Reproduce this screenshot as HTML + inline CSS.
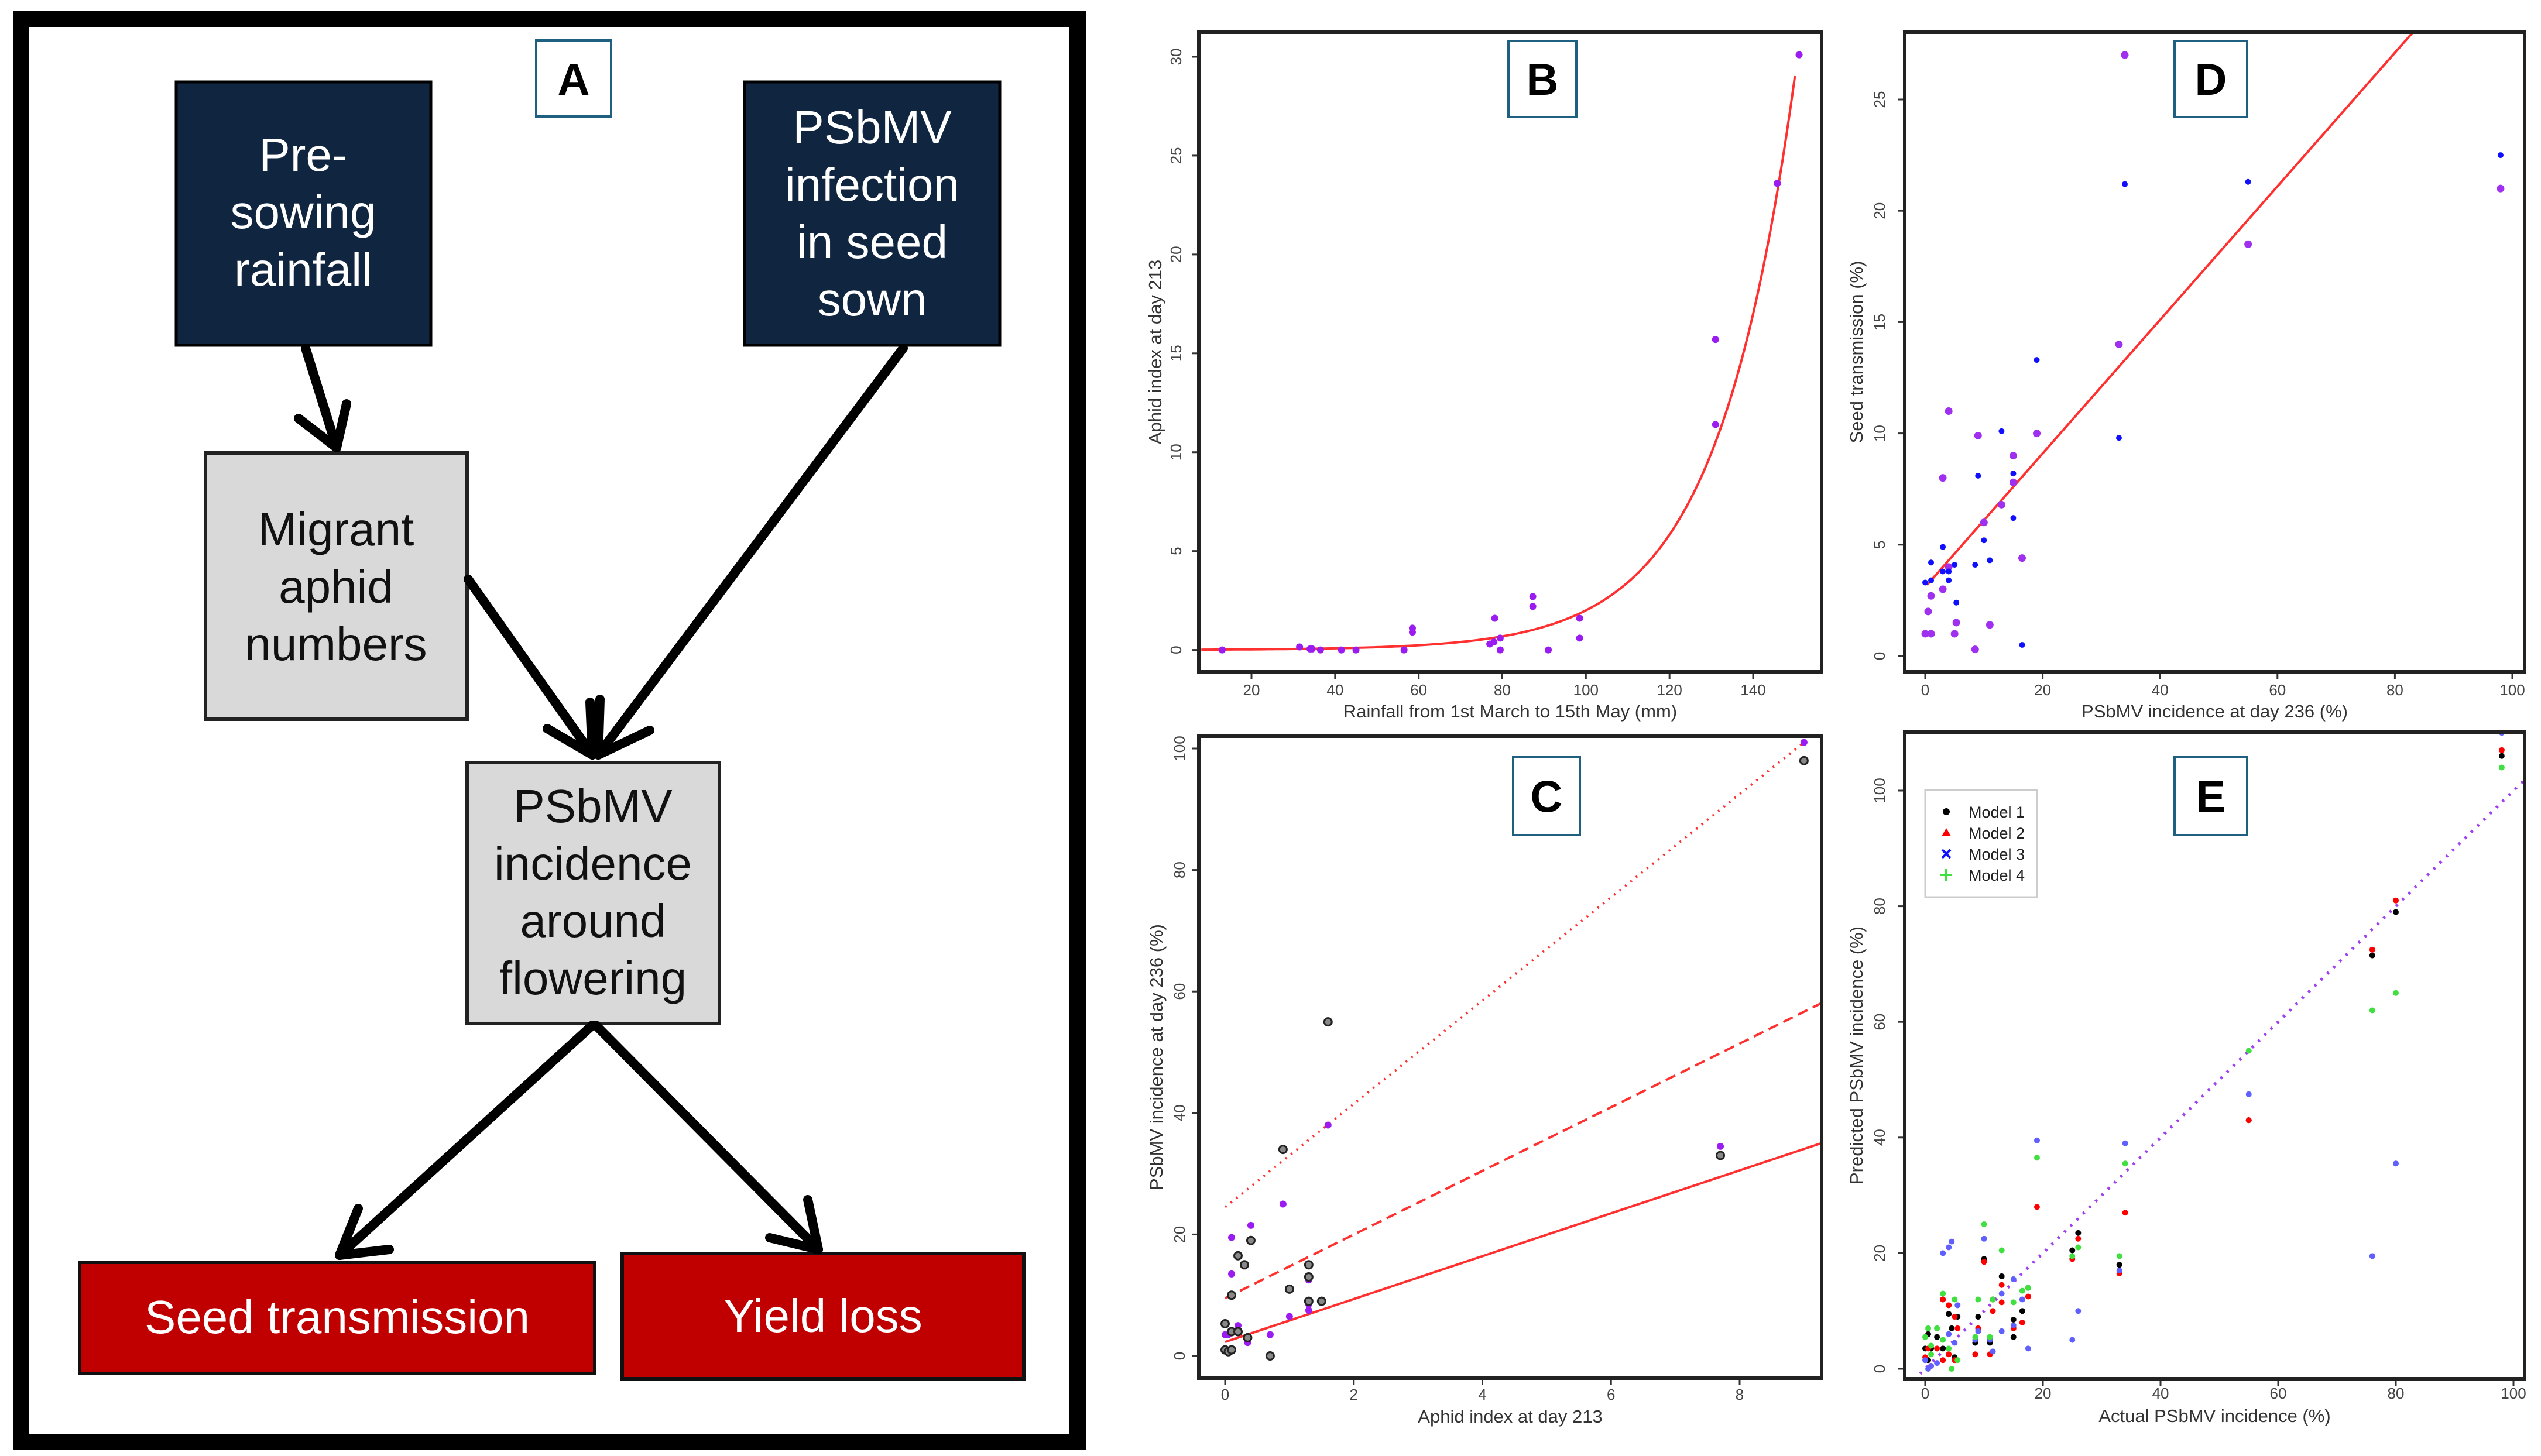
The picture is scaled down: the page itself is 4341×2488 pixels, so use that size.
<!DOCTYPE html>
<html><head><meta charset="utf-8"><style>
html,body{margin:0;padding:0;background:#fff}
svg{display:block}
text{font-family:"Liberation Sans",Arial,sans-serif}
</style></head><body>
<svg id="fig" width="4341" height="2488" viewBox="0 0 4341 2488" xmlns="http://www.w3.org/2000/svg">
<rect x="0" y="0" width="4341" height="2488" fill="#fff"/>
<!-- Panel A -->
<g>
<rect x="36" y="32" width="1805" height="2432" fill="#fff" stroke="#000" stroke-width="28"/>
<rect x="916" y="69" width="128" height="130" fill="#fff" stroke="#1f5f80" stroke-width="4"/>
<text x="980" y="162" font-size="76" font-weight="bold" text-anchor="middle">A</text>
<g>
<rect x="301" y="140" width="435" height="450" fill="#10253f" stroke="#000" stroke-width="5"/>
<text fill="#fff" font-size="80" text-anchor="middle"><tspan x="518" y="292">Pre-</tspan><tspan x="518" y="390">sowing</tspan><tspan x="518" y="488">rainfall</tspan></text>
</g>
<g>
<rect x="1272" y="140" width="436" height="450" fill="#10253f" stroke="#000" stroke-width="5"/>
<text fill="#fff" font-size="80" text-anchor="middle"><tspan x="1490" y="245">PSbMV</tspan><tspan x="1490" y="343">infection</tspan><tspan x="1490" y="441">in seed</tspan><tspan x="1490" y="539">sown</tspan></text>
</g>
<g>
<rect x="351" y="774" width="447" height="455" fill="#d9d9d9" stroke="#222" stroke-width="6"/>
<text fill="#111" font-size="80" text-anchor="middle"><tspan x="574" y="932">Migrant</tspan><tspan x="574" y="1030">aphid</tspan><tspan x="574" y="1128">numbers</tspan></text>
</g>
<g>
<rect x="798" y="1303" width="431" height="446" fill="#d9d9d9" stroke="#222" stroke-width="6"/>
<text fill="#111" font-size="80" text-anchor="middle"><tspan x="1013" y="1405">PSbMV</tspan><tspan x="1013" y="1503">incidence</tspan><tspan x="1013" y="1601">around</tspan><tspan x="1013" y="1699">flowering</tspan></text>
</g>
<g>
<rect x="136" y="2157" width="880" height="190" fill="#c00000" stroke="#111" stroke-width="6"/>
<text x="576" y="2278" fill="#fff" font-size="80" text-anchor="middle">Seed transmission</text>
</g>
<g>
<rect x="1063" y="2142" width="686" height="214" fill="#c00000" stroke="#111" stroke-width="6"/>
<text x="1406" y="2276" fill="#fff" font-size="80" text-anchor="middle">Yield loss</text>
</g>
<g stroke="#000" stroke-width="16" fill="none" stroke-linecap="round" stroke-linejoin="round">
<path d="M522 595 L575 765"/><path d="M510 715 L575 765 L592 690"/>
<path d="M1543 595 L1022 1290"/><path d="M1110 1248 L1022 1290 L1025 1195"/>
<path d="M800 990 L1012 1290"/><path d="M935 1245 L1012 1290 L1008 1200"/>
<path d="M1012 1752 L580 2145"/><path d="M612 2065 L580 2145 L665 2135"/>
<path d="M1018 1752 L1398 2135"/><path d="M1315 2115 L1398 2135 L1380 2050"/>
</g>
</g>
<g id="charts"></g>
</svg>
<script>
// ---------- Data ----------
const bRain = [13,31.5,34,34.5,36.5,41.5,45,56.5,58.5,58.5,77,78,78.2,79.5,79.5,87.3,87.3,91,98.5,98.5,131,131,145.8,151];
const bAphid = [0,0.15,0.05,0.05,0,0,0,0,1.1,0.9,0.3,0.4,1.6,0.6,0,2.7,2.2,0,1.6,0.6,15.7,11.4,23.6,30.1];
const bFitA = 2.0, bFitB = 0.0535;
const bXTicks = [20,40,60,80,100,120,140];
const bYTicks = [0,5,10,15,20,25,30];

const cAphidBlack = [9,1.6,0.9,7.7,0.4,0.2,0.3,1.3,1.3,1,0.1,1.3,1.5,0,0.1,0.2,0.35,0,0.05,0.1,0.7];
const cIncBlack = [98,55,34,33,19,16.5,15,15,13,11,10,9,9,5.3,4,4,3,1,0.7,1,0];
const cAphidPurple = [9,1.6,7.7,0.9,0.4,0.1,0.1,0.3,1.3,1.3,1.3,1.5,1,0.2,0,0.05,0.7,0.35,0.1];
const cIncPurple = [101,38,34.5,25,21.5,19.5,13.5,15,12.5,8.5,7.5,9,6.5,5,3.5,3.5,3.5,2.2,1.2];
const cLineIntercepts = [24.5,9.5,2.3];
const cLineSlopes = [8.5,5.24,3.53];
const cXTicks = [0,2,4,6,8];
const cYTicks = [0,20,40,60,80,100];

const dIncPurple = [34,98,55,33,4,9,19,15,3,15,13,10,4,16.5,3,1,0.5,5.3,11,0,1,5,8.5];
const dSeedPurple = [27,21,18.5,14,11,9.9,10,9,8,7.8,6.8,6,4,4.4,3,2.7,2,1.5,1.4,1,1,1,0.3];
const dIncBlue = [98,55,34,19,13,33,9,15,15,10,3,1,5,8.5,11,3,4,4,0,1,5.3,16.5];
const dSeedBlue = [22.5,21.3,21.2,13.3,10.1,9.8,8.1,8.2,6.2,5.2,4.9,4.2,4.1,4.1,4.3,3.8,3.8,3.4,3.3,3.4,2.4,0.5];
const dFitIntercept = 3.1, dFitSlope = 0.3;
const dXTicks = [0,20,40,60,80,100];
const dYTicks = [0,5,10,15,20,25];

const eM1Actual = [98,80,76,55,33,26,25,17.5,16.5,15,15,13,11.5,11,10,9,8.5,5.5,5,4.5,4,3,3,2,1,0.5,0,0.5];
const eM1Pred = [106,79,71.5,43,18,23.5,20.5,14,10,8.5,5.5,16,12,4.5,19,9,4.5,9,2,7,9.5,12,3.5,5.5,3.5,6,3.5,1.5];
const eM2Actual = [98,80,76,55,34,33,26,25,19,17.5,16.5,15,13,13,11.5,11,10,9,8.5,5.5,5,5,4,4,3,3,2,1,0.5,0];
const eM2Pred = [107,81,72.5,43,27,16.5,22.5,19,28,12.5,8,7,14.5,11.5,10,2.5,18.5,7,2.5,7,9,1.5,11,2.5,12,1.5,3.5,0.5,3.5,2];
const eM3Actual = [98,80,76,55,34,33,26,25,19,17.5,16.5,15,15,13,13,11.5,11,10,9,8.5,5.5,5,4.5,4,3,4,2,1,0.5,0];
const eM3Pred = [110,35.5,19.5,47.5,39,17,10,5,39.5,3.5,12,15.5,7.5,13,6.5,3,5,22.5,6.5,5,11,4.5,22,21,20,6,1,0.5,0,1.5];
const eM4Actual = [98,80,76,55,34,33,26,25,19,17.5,16.5,15,13,11.5,11,10,9,8.5,5.5,5,5,4.5,4,3,3,2,1,0.5,0,1];
const eM4Pred = [104,65,62,55,35.5,19.5,21,19.5,36.5,14,13.5,11.5,20.5,12,5.5,25,12,5.5,1.5,12,-2,0,3.5,13,5,7,4,7,5.5,2.5];
const eModelNames = ["Model 1","Model 2","Model 3","Model 4"];
const eXTicks = [0,20,40,60,80,100];
const eYTicks = [0,20,40,60,80,100];

// ---------- Helpers ----------
const NS = "http://www.w3.org/2000/svg";
const root = document.getElementById('charts');
function mk(tag, attrs, parent){ const e=document.createElementNS(NS,tag); for(const k in attrs) e.setAttribute(k,attrs[k]); (parent||root).appendChild(e); return e; }
function lin(d0,d1,r0,r1){ return v => r0 + (v-d0)*(r1-r0)/(d1-d0); }

function panel(opt){
  const g = mk('g',{});
  
  
  const xs = opt.xs, ys = opt.ys, bx = opt.box;
  const clipId = opt.name+'-clip';
  const cp = mk('clipPath',{id:clipId},g);
  mk('rect',{x:bx[0],y:bx[1],width:bx[2]-bx[0],height:bx[3]-bx[1]},cp);
  const xa = mk('g',{},g);
  
  
  opt.xTicks.forEach(t=>{
    const x = xs(t);
    mk('line',{x1:x,x2:x,y1:bx[3],y2:bx[3]+12,stroke:'#333','stroke-width':3},xa);
    const tx = mk('text',{x:x,y:opt.xLabY,'font-size':26,'text-anchor':'middle',fill:'#444'},xa);
    tx.textContent = t;
  });
  const xt = mk('text',{x:(bx[0]+bx[2])/2,y:opt.xTitleY,'font-size':31,'text-anchor':'middle',fill:'#333'},xa);
  
  
  xt.textContent = opt.xTitle;
  const ya = mk('g',{},g);
  
  
  opt.yTicks.forEach(t=>{
    const y = ys(t);
    mk('line',{x1:bx[0]-12,x2:bx[0],y1:y,y2:y,stroke:'#333','stroke-width':3},ya);
    const tx = mk('text',{x:opt.yLabX,y:y,'font-size':26,'text-anchor':'middle',fill:'#444',transform:`rotate(-90 ${opt.yLabX} ${y})`},ya);
    tx.textContent = t;
  });
  const cy=(bx[1]+bx[3])/2;
  const yt = mk('text',{x:opt.yTitleX,y:cy,'font-size':31,'text-anchor':'middle',fill:'#333',transform:`rotate(-90 ${opt.yTitleX} ${cy})`},ya);
  
  
  yt.textContent = opt.yTitle;
  const plot = mk('g',{'clip-path':`url(#${clipId})`},g);
  mk('rect',{x:bx[0],y:bx[1],width:bx[2]-bx[0],height:bx[3]-bx[1],fill:'none',stroke:'#222','stroke-width':6},g);
  const lb = opt.label;
  const lr = mk('rect',{x:lb[0],y:lb[1],width:lb[2],height:lb[3],fill:'#fff',stroke:'#1f5f80','stroke-width':4},g);
  
  
  const lt = mk('text',{x:lb[0]+lb[2]/2,y:lb[1]+lb[3]/2+27,'font-size':76,'font-weight':'bold','text-anchor':'middle'},g);
  lt.textContent = opt.letter;
  return {g, plot};
}
function dots(parent, xsArr, ysArr, xs, ys, name, style){
  const g = mk('g',{},parent);
  
  
  xsArr.forEach((v,i)=>{
    const c = mk('circle',Object.assign({cx:xs(v),cy:ys(ysArr[i])},style),g);
    
    
  });
}

// ---------- Panel B ----------
(function(){
  const xs = lin(20,140,2138,2995), ys = lin(0,30,1110.6,97);
  const p = panel({name:'panel-b', letter:'B', box:[2048,55,3112,1148], xs, ys, xTicks:bXTicks, yTicks:bYTicks,
    xLabY:1188, xTitleY:1226, yLabX:2018, yTitleX:1984, label:[2577,70,116,130],
    xTitle:'Rainfall from 1st March to 15th May (mm)', yTitle:'Aphid index at day 213'});
  let d='';
  for(let v=8; v<=150; v+=1){ d += (v===8?'M':'L')+xs(v).toFixed(1)+' '+ys(bFitA*Math.exp(bFitB*(v-100))).toFixed(1)+' '; }
  const path = mk('path',{d, fill:'none', stroke:'#ff3030','stroke-width':4},p.plot);
  
  
  dots(p.plot, bRain, bAphid, xs, ys, 'b-observations', {r:6, fill:'#9b1cf0'});
})();

// ---------- Panel D ----------
(function(){
  const xs = lin(0,100,3289,4292), ys = lin(0,25,1121,170);
  const p = panel({name:'panel-d', letter:'D', box:[3254,55,4313,1148], xs, ys, xTicks:dXTicks, yTicks:dYTicks,
    xLabY:1188, xTitleY:1226, yLabX:3220, yTitleX:3182, label:[3715,70,124,130],
    xTitle:'PSbMV incidence at day 236 (%)', yTitle:'Seed transmission (%)'});
  const ln = mk('line',{x1:xs(0.3),y1:ys(dFitIntercept+dFitSlope*0.3),x2:xs(95),y2:ys(dFitIntercept+dFitSlope*95),stroke:'#ff3030','stroke-width':4},p.plot);
  
  
  dots(p.plot, dIncPurple, dSeedPurple, xs, ys, 'd-series-purple', {r:6.5, fill:'#a030f0'});
  dots(p.plot, dIncBlue, dSeedBlue, xs, ys, 'd-series-blue', {r:5, fill:'#1010ff'});
})();

// ---------- Panel C ----------
(function(){
  const xs = lin(0,8,2093,2972), ys = lin(0,100,2317,1279);
  const p = panel({name:'panel-c', letter:'C', box:[2048,1258,3112,2355], xs, ys, xTicks:cXTicks, yTicks:cYTicks,
    xLabY:2392, xTitleY:2431, yLabX:2024, yTitleX:1986, label:[2585,1294,114,133],
    xTitle:'Aphid index at day 213', yTitle:'PSbMV incidence at day 236 (%)'});
  const dashes = ['3 9','18 10',''];
  const nm = ['c-upper-line','c-middle-line','c-lower-line'];
  cLineIntercepts.forEach((a,i)=>{
    const x1=0, x2 = i===0?9:9.5;
    const l = mk('line',{x1:xs(x1),y1:ys(a),x2:xs(x2),y2:ys(a+cLineSlopes[i]*x2),stroke:'#ff3030','stroke-width':4,'stroke-dasharray':dashes[i]},p.plot);
    
    
  });
  dots(p.plot, cAphidPurple, cIncPurple, xs, ys, 'c-series-purple', {r:6, fill:'#9b1cf0'});
  dots(p.plot, cAphidBlack, cIncBlack, xs, ys, 'c-series-black', {r:6.5, fill:'#888', stroke:'#222','stroke-width':3});
})();

// ---------- Panel E ----------
(function(){
  const xs = lin(0,100,3289,4294), ys = lin(0,100,2339,1351);
  const p = panel({name:'panel-e', letter:'E', box:[3254,1251,4313,2356], xs, ys, xTicks:eXTicks, yTicks:eYTicks,
    xLabY:2390, xTitleY:2430, yLabX:3220, yTitleX:3182, label:[3715,1294,124,133],
    xTitle:'Actual PSbMV incidence (%)', yTitle:'Predicted PSbMV incidence (%)'});
  const ref = mk('line',{x1:xs(-3),y1:ys(-3),x2:xs(103),y2:ys(103),stroke:'#a040f0','stroke-width':5,'stroke-dasharray':'4 11'},p.plot);
  
  
  const sets = [[eM1Actual,eM1Pred,'#000'],[eM2Actual,eM2Pred,'#ff0000'],[eM3Actual,eM3Pred,'#6060ff'],[eM4Actual,eM4Pred,'#40e040']];
  sets.forEach((s,i)=>{ dots(p.plot, s[0], s[1], xs, ys, 'e-model-'+(i+1), {r:5, fill:s[2]}); });
  const lg = mk('g',{},p.g);
  
  
  mk('rect',{x:3289,y:1350,width:191,height:183,fill:'#fff',stroke:'#ccc','stroke-width':3},lg);
  eModelNames.forEach((n,i)=>{
    const y = 1387 + i*36;
    const col = sets[i][2]==='#6060ff'?'#1010ff':sets[i][2];
    if(i===0) mk('circle',{cx:3325,cy:y,r:6,fill:col},lg);
    if(i===1) mk('path',{d:`M3325 ${y-8} L3333 ${y+6} L3317 ${y+6} Z`,fill:col},lg);
    if(i===2) mk('path',{d:`M3318 ${y-7} L3332 ${y+7} M3332 ${y-7} L3318 ${y+7}`,stroke:col,'stroke-width':4},lg);
    if(i===3) mk('path',{d:`M3315 ${y} L3335 ${y} M3325 ${y-10} L3325 ${y+10}`,stroke:col,'stroke-width':4},lg);
    const t = mk('text',{x:3363,y:y+10,'font-size':27,fill:'#222'},lg);
    
    
    t.textContent = n;
  });
})();
</script>
</body></html>
